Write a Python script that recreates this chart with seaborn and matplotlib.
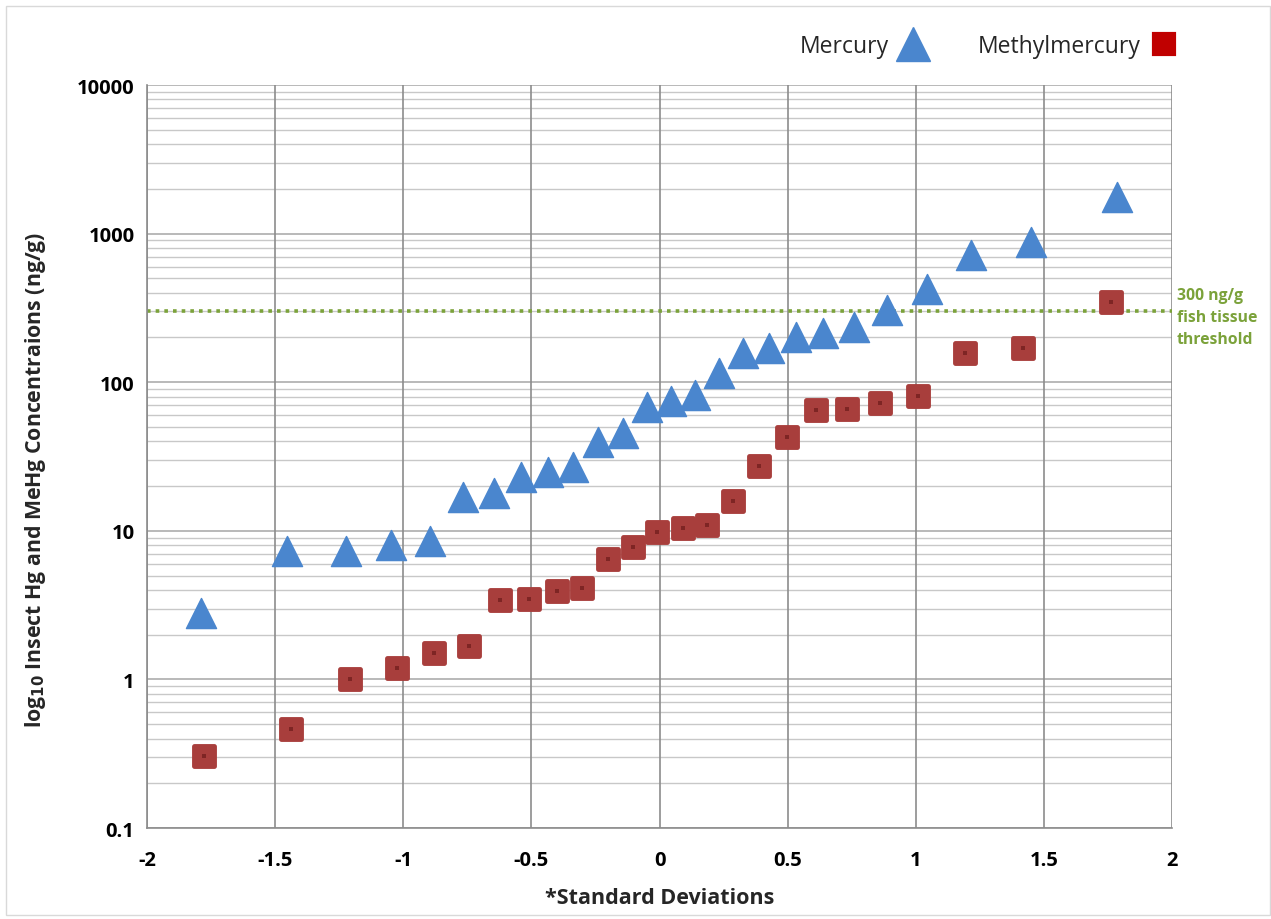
import matplotlib
matplotlib.use("Agg")
import matplotlib.pyplot as plt
from matplotlib.lines import Line2D
from matplotlib.patches import Rectangle
from matplotlib.ticker import FixedLocator, FixedFormatter, NullLocator
import seaborn as sns
import pandas as pd

# ---- data ----
hg_sd = [-1.789, -1.454, -1.223, -1.047, -0.895, -0.767, -0.646, -0.540, -0.435, -0.338,
         -0.240, -0.142, -0.049, 0.045, 0.139, 0.232, 0.326, 0.427, 0.532, 0.638,
         0.759, 0.888, 1.044, 1.216, 1.450, 1.786]
hg_conc = [2.78, 7.27, 7.3, 7.97, 8.6, 16.8, 18.1, 22.9, 25.0, 26.7,
           39.3, 45.2, 67.6, 74.3, 81.5, 114.6, 158, 169, 203, 213,
           237, 304, 421, 713, 872, 1753]
mehg_sd = [-1.777, -1.438, -1.208, -1.024, -0.880, -0.743, -0.622, -0.509, -0.400, -0.302,
           -0.201, -0.103, -0.010, 0.092, 0.185, 0.287, 0.388, 0.498, 0.611, 0.732,
           0.861, 1.009, 1.192, 1.418, 1.762]
mehg_conc = [0.303, 0.461, 1.0, 1.186, 1.50, 1.69, 3.40, 3.45, 3.91, 4.10,
             6.5, 7.74, 9.75, 10.5, 11.0, 15.8, 27.5, 42.5, 64.6, 65.6,
             72.0, 80.2, 158, 171, 344]
threshold = 300
x_ticks = [-2, -1.5, -1, -0.5, 0, 0.5, 1, 1.5, 2]
x_labels = ["-2", "-1.5", "-1", "-0.5", "0", "0.5", "1", "1.5", "2"]
y_ticks = [0.1, 1, 10, 100, 1000, 10000]
y_labels = ["0.1", "1", "10", "100", "1000", "10000"]

df_hg = pd.DataFrame({"sd": hg_sd, "conc": hg_conc})
df_me = pd.DataFrame({"sd": mehg_sd, "conc": mehg_conc})

sns.set_style("white")
plt.rcParams["font.family"] = ["Open Sans", "DejaVu Sans"]

fig = plt.figure(figsize=(12.71, 9.20), dpi=100)
ax = fig.add_axes([0.1157, 0.0989, 0.8064, 0.8076])
ax.set_yscale("log")
ax.set_xlim(-2, 2)
ax.set_ylim(0.1, 10000)

# gridlines
minor_y = [m * 10.0 ** e for e in range(-1, 4) for m in range(2, 10)]
for v in minor_y:
    ax.axhline(v, color="#C8C8C8", lw=1.0, zorder=0)
for v in y_ticks:
    ax.axhline(v, color="#A6A6A6", lw=1.1, zorder=0)
for v in x_ticks:
    ax.axvline(v, color="#8C8C8C", lw=1.2, zorder=0)

# threshold line
ax.axhline(threshold, color="#7BA23A", lw=2.6, ls=(0, (1, 1.4)), zorder=1)

blue = "#4A86CE"
red = "#A83E3C"

sns.scatterplot(data=df_hg, x="sd", y="conc", marker="^", s=470, color=blue,
                edgecolor=blue, linewidth=1, ax=ax, zorder=3)
sns.scatterplot(data=df_me, x="sd", y="conc", marker="s", s=200, color=red,
                edgecolor=red, linewidth=3.5, ax=ax, zorder=3)
ax.collections[-1].set_joinstyle("round")
sns.scatterplot(data=df_me, x="sd", y="conc", marker="s", s=10, color="#7E2524",
                linewidth=0, ax=ax, zorder=4)

# axes styling
for side in ["top", "right"]:
    ax.spines[side].set_visible(False)
for side in ["left", "bottom"]:
    ax.spines[side].set_color("#8C8C8C")
    ax.spines[side].set_linewidth(1.2)

ax.xaxis.set_major_locator(FixedLocator(x_ticks))
ax.xaxis.set_major_formatter(FixedFormatter(x_labels))
ax.yaxis.set_major_locator(FixedLocator(y_ticks))
ax.yaxis.set_major_formatter(FixedFormatter(y_labels))
ax.yaxis.set_minor_locator(NullLocator())
ax.tick_params(axis="both", which="major", direction="out", length=6, width=1.1,
               color="#8C8C8C", labelsize=14.5, labelcolor="#000000")
ax.tick_params(axis="y", pad=3)
ax.tick_params(axis="x", pad=10)
fig.canvas.draw()
for lab in ax.get_xticklabels() + ax.get_yticklabels():
    lab.set_fontweight("bold")

ax.set_xlabel("*Standard Deviations", fontsize=15.5, fontweight="bold")
ax.xaxis.set_label_coords(0.5, -0.079)
ax.set_ylabel("log$_{\\mathbf{10}}$ Insect Hg and MeHg Concentraions (ng/g)",
              fontsize=15.3, fontweight="bold")
ax.yaxis.set_label_coords(-0.0966, 0.47)

# threshold annotation
ax.annotate("300 ng/g\nfish tissue\nthreshold", xy=(1.0045, threshold),
            xycoords=ax.get_yaxis_transform(), xytext=(0, -4), textcoords="offset points",
            ha="left", va="center", fontsize=11.3, fontweight="bold", color="#7BA23A",
            linespacing=1.5, annotation_clip=False)

# legend
handles = [
    Line2D([], [], ls="none", marker="^", markersize=24, color="#4A86CE"),
    Line2D([], [], ls="none", marker="s", markersize=14.5, color="#C00000",
           markeredgewidth=3, markeredgecolor="#C00000"),
]
leg = ax.legend(handles, ["Mercury", "Methylmercury"], ncol=2, markerfirst=False,
                frameon=False, fontsize=16.5, loc="center right",
                bbox_to_anchor=(1.026, 1.052), handletextpad=0.45, columnspacing=2.2,
                handlelength=1.2)
for h in leg.legend_handles:
    try:
        h.set_solid_joinstyle("round")
    except Exception:
        pass

fig.patches.append(Rectangle((0.005, 0.004), 0.994, 0.988, transform=fig.transFigure,
                             fill=False, edgecolor="#D9D9D9", lw=1.0))

fig.savefig("out.png", dpi=100)
